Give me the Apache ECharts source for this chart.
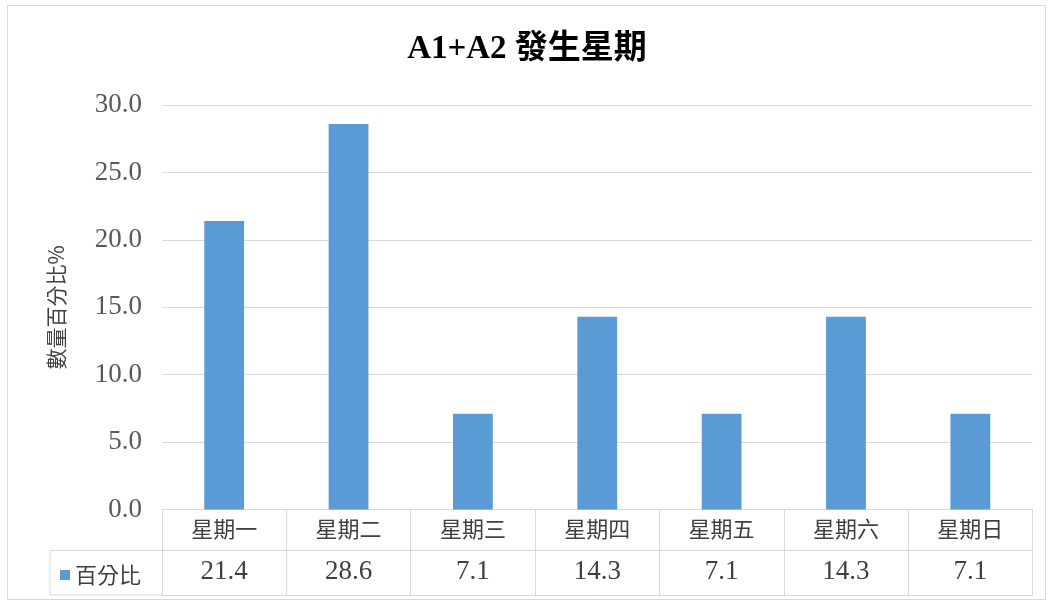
<!DOCTYPE html>
<html>
<head>
<meta charset="utf-8">
<title>A1+A2 發生星期</title>
<script src="https://cdn.jsdelivr.net/npm/echarts@6/dist/echarts.min.js"></script>
<style>
  html, body { margin: 0; padding: 0; background: #ffffff; }
  #chart { width: 1054px; height: 605px; }
</style>
</head>
<body>
<div id="chart"></div>
<script>
// Weekday share of A1+A2 cases (percent)
const titleText = 'A1+A2 發生星期';
const categories = ['星期一', '星期二', '星期三', '星期四', '星期五', '星期六', '星期日'];
const seriesName = '百分比';
const percentValues = [21.4, 28.6, 7.1, 14.3, 7.1, 14.3, 7.1];
const yTicks = { min: 0, max: 30, interval: 5 };
const yAxisName = '數量百分比%';

const NUM_FONT = "'Liberation Serif', 'Noto Sans CJK TC', serif";
const CJK_FONT = "'Noto Sans CJK TC', 'Liberation Serif', sans-serif";
const LINE = '#d9d9d9';
const BAR = '#5b9bd5';

const chart = echarts.init(document.getElementById('chart'), null, { renderer: 'canvas' });

const grid = { left: 162, top: 105, width: 870.5, height: 404.5 };
const tableRow = 41;      // height of the category row
const tableBottom = 85.5; // distance from axis line to bottom of value row

const option = {
  animation: false,
  backgroundColor: '#ffffff',
  title: {
    text: titleText,
    left: 'center',
    top: 28,
    textStyle: { fontFamily: NUM_FONT, fontSize: 33, fontWeight: 'bold', color: '#000000' }
  },
  legend: {
    data: [seriesName],
    left: 55,
    top: 559,
    icon: 'rect',
    itemWidth: 10,
    itemHeight: 10,
    itemGap: 6,
    selectedMode: false,
    textStyle: { fontFamily: CJK_FONT, fontSize: 22, color: '#404040' }
  },
  grid: grid,
  xAxis: [
    {
      type: 'category',
      data: categories,
      position: 'bottom',
      axisLine: { show: true, lineStyle: { color: LINE, width: 1 } },
      axisTick: { show: true, length: tableBottom, lineStyle: { color: LINE, width: 1 } },
      axisLabel: { margin: 8, fontFamily: CJK_FONT, fontSize: 22, color: '#404040' },
      splitLine: { show: false }
    },
    {
      type: 'category',
      data: categories,
      position: 'bottom',
      offset: tableRow,
      axisLine: { show: true, lineStyle: { color: LINE, width: 1 } },
      axisTick: { show: false },
      axisLabel: {
        margin: 8,
        fontFamily: NUM_FONT,
        fontSize: 27,
        color: '#404040',
        formatter: (v, i) => percentValues[i].toFixed(1)
      },
      splitLine: { show: false }
    },
    {
      type: 'category',
      data: categories,
      position: 'bottom',
      offset: tableBottom,
      axisLine: { show: true, lineStyle: { color: LINE, width: 1 } },
      axisTick: { show: false },
      axisLabel: { show: false },
      splitLine: { show: false }
    }
  ],
  yAxis: {
    type: 'value',
    min: yTicks.min,
    max: yTicks.max,
    interval: yTicks.interval,
    name: yAxisName,
    nameLocation: 'middle',
    nameGap: 95,
    nameRotate: 90,
    nameTextStyle: { fontFamily: CJK_FONT, fontSize: 21, color: '#404040' },
    axisLine: { show: false },
    axisTick: { show: false },
    axisLabel: {
      margin: 20,
      fontFamily: NUM_FONT,
      fontSize: 27,
      color: '#595959',
      formatter: v => v.toFixed(1)
    },
    splitLine: { show: true, lineStyle: { color: LINE, width: 1 } }
  },
  series: [{
    name: seriesName,
    type: 'bar',
    xAxisIndex: 0,
    data: percentValues,
    barCategoryGap: '68%',
    itemStyle: { color: BAR },
    label: { show: false }
  }]
};

chart.setOption(option);

// Left-hand legend cell of the data table and the outer chart frame
const axisY = grid.top + grid.height;
const cellLeft = 50;
chart.setOption({
  graphic: [
    {
      type: 'rect',
      silent: true,
      shape: { x: 7.5, y: 5.5, width: 1038, height: 594 },
      style: { fill: 'none', stroke: LINE, lineWidth: 1 }
    },
    {
      type: 'polyline',
      silent: true,
      shape: {
        points: [
          [grid.left, axisY + tableRow],
          [cellLeft, axisY + tableRow],
          [cellLeft, axisY + tableBottom],
          [grid.left, axisY + tableBottom]
        ]
      },
      style: { fill: 'none', stroke: LINE, lineWidth: 1 }
    }
  ]
});
</script>
</body>
</html>
